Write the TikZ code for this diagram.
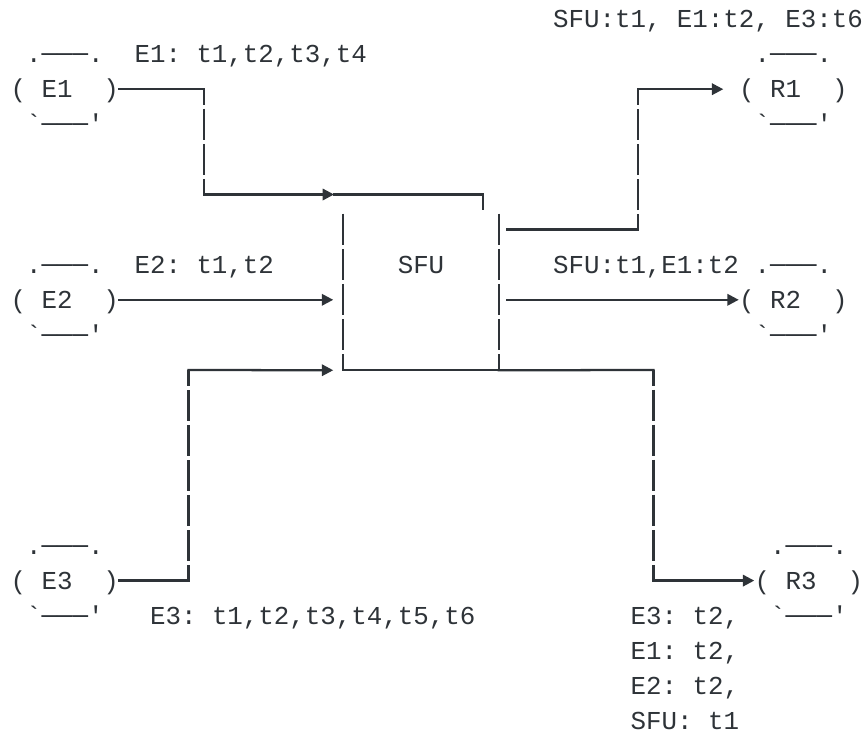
\documentclass[tikz,border=0pt]{standalone}
\usepackage{fontspec}
\setmonofont{Liberation Mono}
\usetikzlibrary{arrows.meta,calc}
\definecolor{Ink}{HTML}{2E3338}

\begin{document}
\begin{tikzpicture}[
  x=0.75pt, y=-0.75pt,
  lbl/.style={font=\ttfamily\fontsize{19.37}{26.3}\selectfont, text=Ink, inner sep=0pt, anchor=west, text height=19.54pt, text depth=6.79pt},
  sfubox/.style={lbl, anchor=center, minimum width=116.25pt, text height=44.4pt, text depth=72.6pt},
  wire/.style={Ink, line width=1.7pt, line cap=rect},
  vwire/.style={Ink, line width=1.7pt, dash pattern=on 23.3pt off 3pt, dash phase=11.66pt},
  wall/.style={Ink, line width=1.7pt, dash pattern=on 23.3pt off 3pt},
  arr/.style={-{Triangle[length=8.5pt,width=8.5pt]}}
]
\useasboundingbox (0,0) rectangle (867,736);

% endpoints, drawn as in the ascii sketch
\foreach \n/\x/\y in {E1/18/89.2, E2/18/299.8, E3/18/580.6, R1/746.5/89.2, R2/746.5/299.8, R3/762/580.6}{
  \node[lbl] (\n) at (\x-7.75,\y) {(~\n~~)};
  \node[lbl] at (\x+7.75,\y-35.1) {.───.};
  \node[lbl] at (\x+7.75,\y+35.1) {`───'};
}

\node[sfubox] (SFU) at (421,292) {SFU};

% track labels
\node[lbl] (outR1) at (552.75,19) {SFU:t1, E1:t2, E3:t6};
\node[lbl] (inE1) at (134.25,54.1) {E1: t1,t2,t3,t4};
\node[lbl] (inE2) at (134.25,264.7) {E2: t1,t2};
\node[lbl] (outR2) at (552.75,264.7) {SFU:t1,E1:t2};
\node[lbl] (inE3) at (149.75,615.7) {E3: t1,t2,t3,t4,t5,t6};
\node[lbl] (outR3a) at (630.25,615.7) {E3: t2,};
\node[lbl] (outR3b) at (630.25,650.8) {E1: t2,};
\node[lbl] (outR3c) at (630.25,685.9) {E2: t2,};
\node[lbl] (outR3d) at (630.25,721) {SFU: t1};

\coordinate (E1a) at (204,89.2);
\coordinate (E1b) at (204,194.5);
\coordinate (E1tip) at (334,194.5);
\coordinate (E1c) at (483,194.5);
\coordinate (E3a) at (188.5,580.6);
\coordinate (E3b) at (188.5,370);
\coordinate (R1a) at (638,229.6);
\coordinate (R1b) at (638,89.2);
\coordinate (R3a) at (653.5,370);
\coordinate (R3b) at (653.5,580.6);

% senders into the SFU
\draw[wire] (E1) -- (E1a);
\draw[vwire] (E1a) -- (E1b);
\draw[wire,arr] (E1b) -- (E1tip);
\draw[wire] (E1tip) -- (E1c);
\draw[vwire,shorten >=3pt] (E1c) -- (E1c |- SFU.north);
\draw[wire,arr,shorten >=7.5pt] (E2) -- (E2 -| SFU.west);
\draw[wire] (E3) -- (E3a);
\draw[vwire] (E3a) -- (E3b);
\draw[wire,arr,shorten >=7.5pt] (E3b) -- (SFU.south west);

% SFU box, open on top
\draw[wall] (SFU.north west) -- (SFU.south west);
\draw[wall] (SFU.north east) -- (SFU.south east);
\draw[wire] (SFU.south west) -- (SFU.south east);

% SFU out to receivers
\draw[wire,shorten <=6.4pt] (SFU.east |- R1a) -- (R1a);
\draw[vwire] (R1a) -- (R1b);
\draw[wire,arr,shorten >=11.6pt] (R1b) -- (R1);
\draw[wire,arr,shorten <=6.4pt] (SFU.east |- R2) -- (R2);
\draw[wire] (SFU.south east) -- (R3a);
\draw[vwire] (R3a) -- (R3b);
\draw[wire,arr] (R3b) -- (R3);
\end{tikzpicture}
\end{document}
